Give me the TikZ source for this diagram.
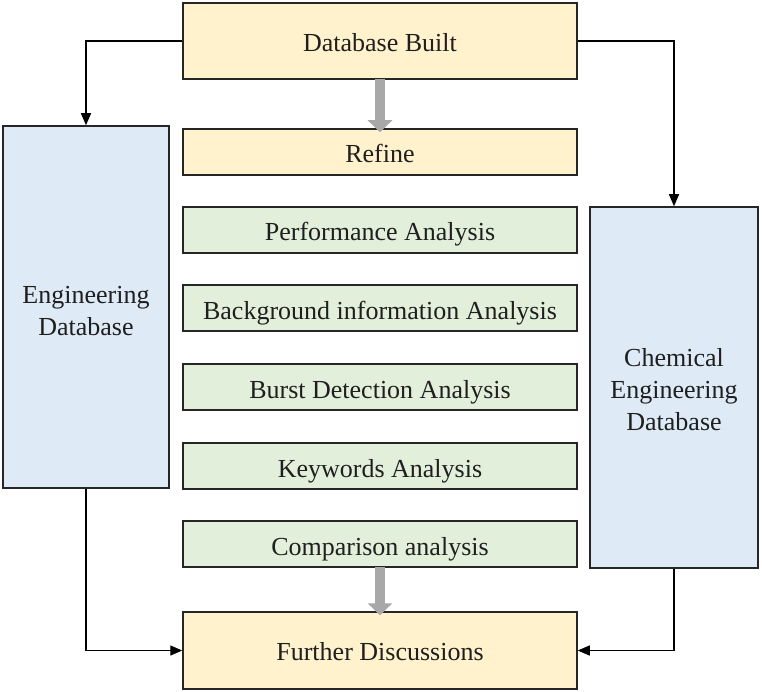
\documentclass[tikz,border=0pt]{standalone}
\usepackage{fontspec}
\setmainfont{Liberation Serif}
\usetikzlibrary{arrows.meta}
\definecolor{orfill}{HTML}{FFF2CC}
\definecolor{grfill}{HTML}{E2EFDA}
\definecolor{blfill}{HTML}{DEEBF7}
\definecolor{edge}{HTML}{262626}
\definecolor{flowgray}{HTML}{A8A8A8}
\newcommand{\stacklines}[2]{\raisebox{#1}[\height][\depth]{\begin{tabular}{@{}c@{}}#2\end{tabular}}}
\begin{document}
\begin{tikzpicture}[x=1pt,y=-1pt,
  box/.style={draw=edge, line width=1.5pt, inner sep=0pt, align=center,
    font=\fontsize{26}{32}\selectfont, text=black!88},
  midbox/.style={box, minimum width=394pt, text height=21pt, text depth=0pt},
  orbox/.style={midbox, fill=orfill},
  grbox/.style={midbox, fill=grfill, minimum height=46pt, text height=22pt},
  blbox/.style={box, fill=blfill},
  link/.style={draw=black, line width=1.3pt, -{Triangle[length=12pt,width=10pt]}},
  flow/.style={draw=flowgray, line width=10pt, -{Triangle[length=12pt,width=24pt]}}
]
\useasboundingbox (0,0) rectangle (762,692);
\node[orbox, minimum height=76pt] (db) at (380,41) {Database Built};
\node[orbox, minimum height=46pt] (refine) at (380,152) {Refine};
\node[grbox] (perf) at (380,230) {Performance Analysis};
\node[grbox] (back) at (380,308) {Background information Analysis};
\node[grbox] (burst) at (380,387) {Burst Detection Analysis};
\node[grbox] (key) at (380,466) {Keywords Analysis};
\node[grbox] (comp) at (380,544) {Comparison analysis};
\node[orbox, minimum height=77pt, text height=19pt] (fd) at (380,650.5) {Further Discussions};
\node[blbox, minimum width=166pt, minimum height=362pt] (eng) at (86,307)
  {\stacklines{-6pt}{Engineering\\Database}};
\node[blbox, minimum width=168pt, minimum height=361pt] (chem) at (674,387.5)
  {\stacklines{-5pt}{Chemical\\Engineering\\Database}};
\draw[link] (db.west) -| (eng.north);
\draw[link] (db.east) -| (chem.north);
\draw[link] (eng.south) |- (fd.west);
\draw[link] (chem.south) |- (fd.east);
\draw[flow] ([yshift=1pt]db.south) -- ([yshift=-4pt]refine.north);
\draw[flow] ([yshift=1pt]comp.south) -- ([yshift=-4pt]fd.north);
\end{tikzpicture}
\end{document}
